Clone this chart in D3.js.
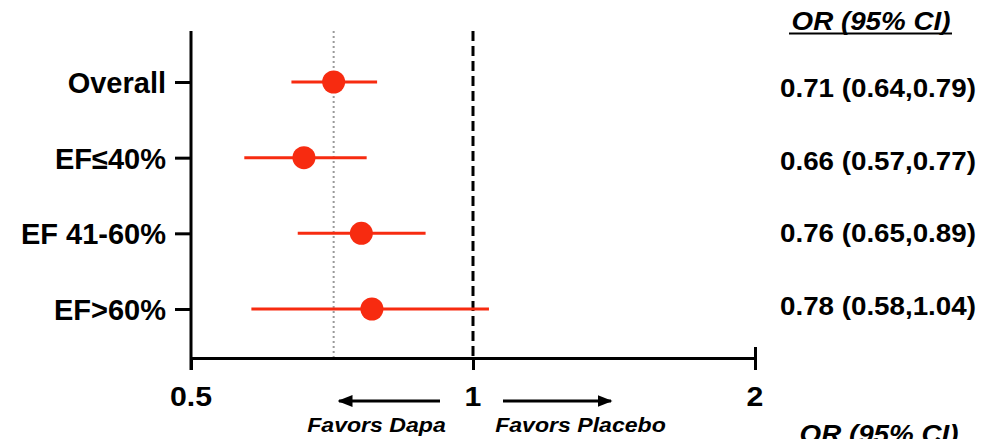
<!DOCTYPE html>
<html>
<head>
<meta charset="utf-8">
<script src="https://cdn.jsdelivr.net/npm/d3@7"></script>
<style>
  body { margin: 0; background: #fff; }
  svg { display: block; }
  text { font-family: "Liberation Sans", Arial, sans-serif; font-weight: bold; fill: #000; }
</style>
</head>
<body>
<script>
const categories = ['Overall', 'EF≤40%', 'EF 41-60%', 'EF>60%'];
const oddsRatio = [0.71, 0.66, 0.76, 0.78];
const ciLow = [0.64, 0.57, 0.65, 0.58];
const ciHigh = [0.79, 0.77, 0.89, 1.04];
const xTicks = [0.5, 1, 2];
const nullValue = 1;
const headerText = 'OR (95% CI)';
const favorsLeft = 'Favors Dapa';
const favorsRight = 'Favors Placebo';

const width = 981;
const height = 439;
const red = '#f72b10';

const data = categories.map((c, i) => ({
    cat: c,
    or: oddsRatio[i],
    lo: ciLow[i],
    hi: ciHigh[i]
}));

const x = d3.scaleLog()
    .base(2)
    .domain([xTicks[0], xTicks[xTicks.length - 1]])
    .range([191, 755]);

const y = d3.scalePoint()
    .domain(categories)
    .range([82, 309]);

// right-hand table has its own row positions
const yTable = d3.scalePoint()
    .domain(categories)
    .range([97, 315]);

const axisY = 358;
const plotTop = 31;

const svg = d3.create('svg')
    .attr('width', width)
    .attr('height', height);

// text in the picture is a bit wider than Arial, so stretch it
function label(px, py, str, size, anchor, italic, stretch = 1.12) {
    const g = svg.append('g').attr('transform', `translate(${px},${py}) scale(${stretch},1)`);
    return g.append('text')
        .attr('text-anchor', anchor)
        .style('font-size', size + 'px')
        .style('font-style', italic ? 'italic' : 'normal')
        .text(str);
}

// reference lines
svg.append('line')
    .attr('x1', x(oddsRatio[0])).attr('x2', x(oddsRatio[0]))
    .attr('y1', plotTop).attr('y2', axisY)
    .attr('stroke', '#9a9a9a')
    .attr('stroke-width', 2)
    .attr('stroke-dasharray', '2,3');

svg.append('line')
    .attr('x1', x(nullValue)).attr('x2', x(nullValue))
    .attr('y1', plotTop).attr('y2', axisY)
    .attr('stroke', '#000')
    .attr('stroke-width', 3)
    .attr('stroke-dasharray', '10,5');

// y axis
const y_axis = d3.axisLeft(y)
    .tickSizeInner(16)
    .tickSizeOuter(0)
    .tickPadding(9);

const gy = svg.append('g')
    .attr('transform', `translate(${x(xTicks[0])},0)`)
    .call(y_axis);
gy.select('.domain').remove();
gy.selectAll('.tick line').attr('stroke', '#000').attr('stroke-width', 3);
gy.selectAll('.tick text')
    .style('font-size', '29px')
    .attr('dy', '0.36em');
gy.append('line')
    .attr('x1', 0).attr('x2', 0)
    .attr('y1', plotTop).attr('y2', axisY + 12)
    .attr('stroke', '#000').attr('stroke-width', 3);

// x axis
const x_axis = d3.axisBottom(x)
    .tickValues(xTicks)
    .tickSizeInner(12)
    .tickSizeOuter(0)
    .tickFormat(d => d);

const gx = svg.append('g')
    .attr('transform', `translate(0,${axisY})`)
    .call(x_axis);
gx.select('.domain').attr('stroke', '#000').attr('stroke-width', 3);
gx.selectAll('.tick line')
    .attr('stroke', '#000').attr('stroke-width', 3)
    .attr('y1', d => d === xTicks[xTicks.length - 1] ? -11 : 0);
gx.selectAll('.tick text').remove();
xTicks.forEach(t => label(x(t), 406, String(t), 27.5, 'middle', false, 1.1));

// confidence intervals and points
const row = svg.append('g')
    .selectAll('g')
    .data(data)
    .join('g');

row.append('line')
    .attr('x1', d => x(d.lo))
    .attr('x2', d => x(d.hi))
    .attr('y1', d => y(d.cat))
    .attr('y2', d => y(d.cat))
    .attr('stroke', red)
    .attr('stroke-width', 3);

row.append('circle')
    .attr('cx', d => x(d.or))
    .attr('cy', d => y(d.cat))
    .attr('r', 11.5)
    .attr('fill', red);

// table on the right
label(871, 29.5, headerText, 25, 'middle', true, 1.11);
svg.append('line')
    .attr('x1', 789).attr('x2', 952)
    .attr('y1', 33.5).attr('y2', 33.5)
    .attr('stroke', '#000').attr('stroke-width', 2);

data.forEach(d => {
    label(780, yTable(d.cat), `${d.or.toFixed(2)} (${d.lo.toFixed(2)},${d.hi.toFixed(2)})`, 25, 'start', false, 1.11);
});

// favors arrows
svg.append('defs').append('marker')
    .attr('id', 'head')
    .attr('viewBox', '0 0 10 10')
    .attr('refX', 9).attr('refY', 5)
    .attr('markerWidth', 5).attr('markerHeight', 5)
    .attr('markerUnits', 'strokeWidth')
    .attr('orient', 'auto')
    .append('path')
    .attr('d', 'M0,1 L10,5 L0,9 Z')
    .attr('fill', '#000');

svg.append('line')
    .attr('x1', 440).attr('x2', 339)
    .attr('y1', 401).attr('y2', 401)
    .attr('stroke', '#000').attr('stroke-width', 3)
    .attr('marker-end', 'url(#head)');

svg.append('line')
    .attr('x1', 503).attr('x2', 611)
    .attr('y1', 401).attr('y2', 401)
    .attr('stroke', '#000').attr('stroke-width', 3)
    .attr('marker-end', 'url(#head)');

label(376.5, 432, favorsLeft, 21, 'middle', true, 1.1);
label(580.5, 432, favorsRight, 21, 'middle', true, 1.1);

// repeated header, cut by the bottom edge as in the source image
label(879, 443, headerText, 25, 'middle', true, 1.11);

document.querySelector('body').appendChild(svg.node());
</script>
</body>
</html>
